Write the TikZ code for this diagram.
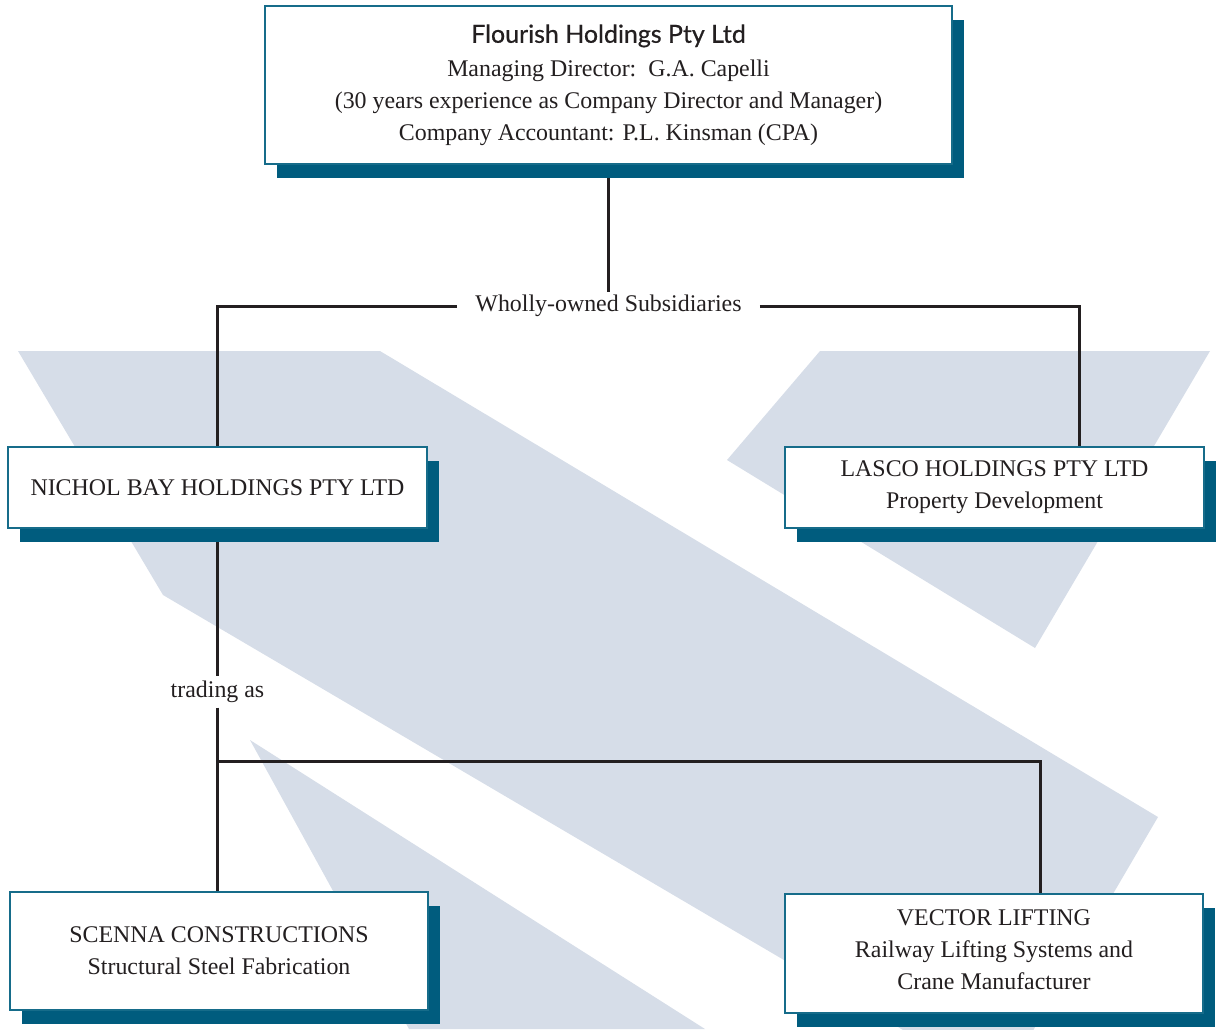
\documentclass[tikz,border=0pt]{standalone}
\usepackage{fontspec}
\setmainfont{Liberation Serif}
\newfontfamily\titlefont[FakeBold=0.6]{Lato}
\usetikzlibrary{shadows}
\definecolor{boxline}{RGB}{22,108,138}
\definecolor{boxshade}{RGB}{0,92,126}
\definecolor{dotgrey}{RGB}{214,221,232}
\definecolor{ink}{RGB}{35,31,32}
\pgfdeclarelayer{back}
\pgfdeclarelayer{wires}
\pgfsetlayers{back,wires,main}
\tikzset{
	firm/.style={draw=boxline, line width=0.05cm, fill=white, align=center, inner sep=0pt, text=ink,
		font=\fontsize{13.6}{18.2}\selectfont,
		drop shadow={shadow xshift=0.24cm, shadow yshift=-0.28cm, fill=boxshade, opacity=1}},
	wire/.style={line width=0.06cm, color=ink},
	tag/.style={inner xsep=0.36cm, inner ysep=0.05cm, text=ink, font=\fontsize{13.6}{18.2}\selectfont}
}

\begin{document}
\begin{tikzpicture}[x=0.02cm, y=-0.02cm]
	%%%%% START %%%%%
	\useasboundingbox (0,0) rectangle (1217,1029);
	
	% holding company
	\node[firm, minimum width=13.74cm, minimum height=3.16cm] (flourish) at (608.5,85)
		{{\titlefont\fontsize{14.2}{18.2}\selectfont Flourish Holdings Pty Ltd}\\[1pt]
		Managing Director:\ \ G.A. Capelli\\
		(30 years experience as Company Director and Manager)\\
		Company Accountant: P.L. Kinsman (CPA)};
	
	% subsidiaries
	\node[firm, minimum width=8.38cm, minimum height=1.62cm] (nichol) at (217.5,487.5)
		{NICHOL BAY HOLDINGS PTY LTD};
	\node[firm, minimum width=8.38cm, minimum height=1.62cm] (lasco) at (994.5,487.5)
		{LASCO HOLDINGS PTY LTD\\Property Development};
	
	% trading names
	\node[firm, minimum width=8.36cm, minimum height=2.36cm] (scenna) at (219,951)
		{SCENNA CONSTRUCTIONS\\Structural Steel Fabrication};
	\node[firm, minimum width=8.36cm, minimum height=2.38cm] (vector) at (994,953.5)
		{VECTOR LIFTING\\Railway Lifting Systems and\\Crane Manufacturer\\[-14pt]\mbox{}};
	
	\node[tag] (subs) at (608.5,306) {Wholly-owned Subsidiaries};
	\node[tag, inner xsep=0.1cm, inner ysep=0.09cm] (trade) at (217.5,692) {trading as};
	
	\begin{pgfonlayer}{wires}
		\draw[wire] (flourish.south) -- (subs.north);
		\draw[wire] (subs.west) -| (nichol.north);
		\draw[wire] (subs.east) -| ([xshift=1.71cm]lasco.north);
		\draw[wire] (nichol.south) -- (trade.north);
		\draw[wire] (trade.south) -- (trade.south |- scenna.north);
		\coordinate (split) at (217.5,761);
		\draw[wire] (split) -| ([xshift=0.92cm]vector.north);
	\end{pgfonlayer}
	
	% grey background shapes
	\begin{pgfonlayer}{back}
		\clip (0,0) rectangle (1217,1029);
		\fill[dotgrey] (18,351) -- (380,351) -- (1158,817) -- (1000,1087) -- (163,595) -- cycle;
		\fill[dotgrey] (820,351) -- (1210,351) -- (1035,648) -- (727,460) -- cycle;
		\fill[dotgrey] (250,740) -- (705,1029) -- (409,1029) -- cycle;
	\end{pgfonlayer}
	
	%%%%% END %%%%%
\end{tikzpicture}
\end{document}
